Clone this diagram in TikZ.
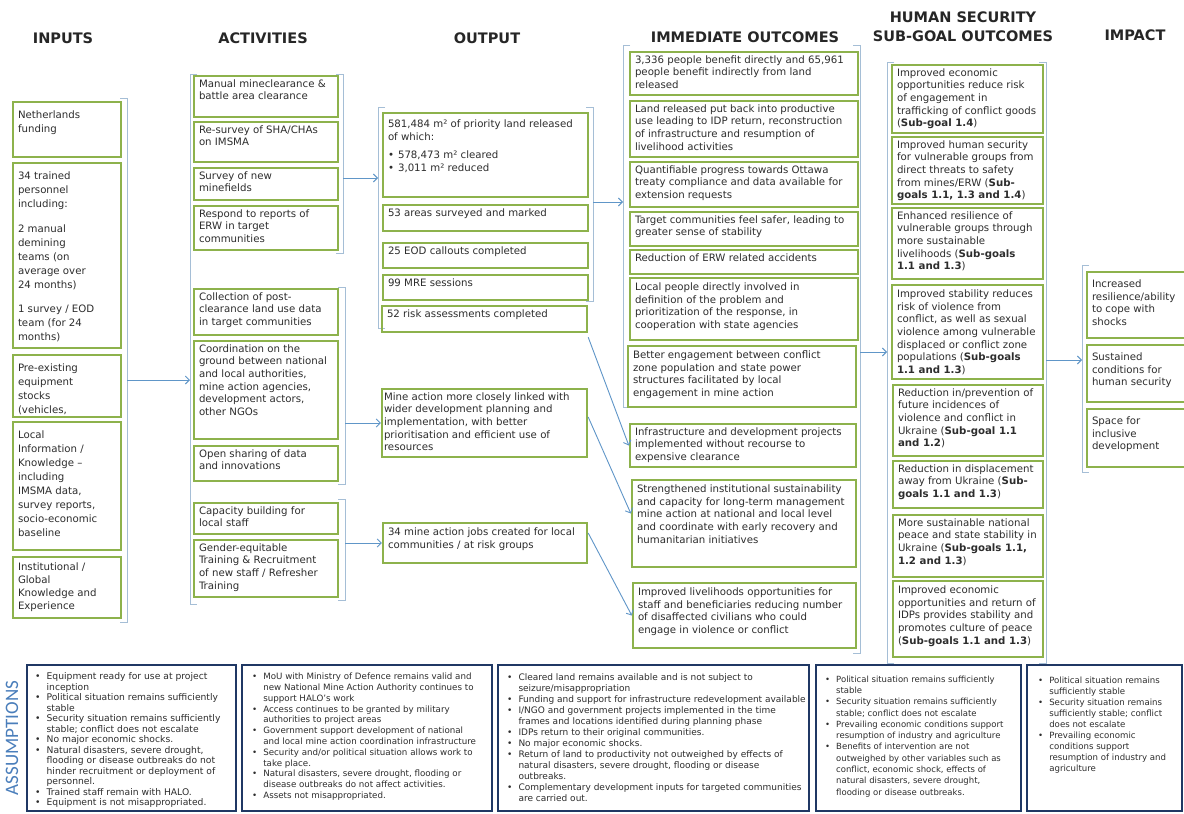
\documentclass[tikz,border=0pt]{standalone}
\usepackage{fontspec}
\setmainfont{DejaVu Sans}
\newfontfamily\asfont{Carlito}
\usetikzlibrary{arrows.meta,fit,calc}
\definecolor{grn}{RGB}{141,178,76}
\definecolor{navy}{RGB}{32,56,100}
\definecolor{brc}{RGB}{165,190,214}
\definecolor{arc}{RGB}{96,150,200}
\definecolor{txt}{RGB}{45,45,45}
\definecolor{asm}{RGB}{74,126,187}
\tikzset{
 gbox/.style={draw=grn, line width=2.4pt, inner sep=0pt},
 gtext/.style={align=left, inner xsep=6pt, inner ysep=4.5pt, text=txt, font=\fontsize{10.2}{12.6}\selectfont, anchor=north west},
 intext/.style={inner ysep=10pt, font=\fontsize{10.2}{13.9}\selectfont},
 abox/.style={draw=navy, line width=2.5pt, inner sep=0pt},
 atext/.style={inner sep=0pt, text=txt, anchor=north west},
 hdr/.style={font=\fontsize{14.5}{19}\selectfont\bfseries, text=black!85, align=center},
 brk/.style={draw=brc, line width=0.8pt},
 arr/.style={draw=arc, line width=0.9pt, -{Straight Barb[length=4pt,width=8pt]}},
}
\newcommand{\gbx}[7][]{%
 \node[gbox, fit={(#3,#4) (#5,#6)}] (#2) {};
 \node[gtext,#1] (#2t) at (#2.north west) {#7};}
\newcommand{\lbrk}[3]{\draw[brk] (#1+7,#2) -- (#1,#2) -- (#1,#3) -- (#1+7,#3);}
\newcommand{\rbrk}[3]{\draw[brk] (#1-7,#2) -- (#1,#2) -- (#1,#3) -- (#1-7,#3);}
\begin{document}
\begin{tikzpicture}[x=1pt,y=-1pt]
\useasboundingbox[fill=white] (0,0) rectangle (1184,814);

% headers
\node[hdr] (hin) at (63,38) {INPUTS};
\node[hdr] (hact) at (263,38) {ACTIVITIES};
\node[hdr] (hout) at (487,38) {OUTPUT};
\node[hdr] (himm) at (745,37) {IMMEDIATE OUTCOMES};
\node[hdr] (hhs) at (963,27) {HUMAN SECURITY\\SUB-GOAL OUTCOMES};
\node[hdr] (himp) at (1135,35) {IMPACT};

% inputs
\gbx[intext]{in1}{13}{102}{121}{157}{Netherlands\\funding}
\gbx[intext]{in2}{13}{163}{121}{348}{34 trained\\personnel\\including:\\[11pt]2 manual\\demining\\teams (on\\average over\\24 months)\\[11pt]1 survey / EOD\\team (for 24\\months)}
\gbx[intext]{in3}{13}{355}{121}{417}{Pre-existing\\equipment\\stocks\\(vehicles,}
\gbx[intext]{in4}{13}{422}{121}{550}{Local\\Information /\\Knowledge –\\including\\IMSMA data,\\survey reports,\\socio-economic\\baseline}
\gbx[intext, inner ysep=7pt, font=\fontsize{10.2}{13}\selectfont]{in5}{13}{557}{121}{618}{Institutional /\\Global\\Knowledge and\\Experience}
\rbrk{127}{98}{622}

% activities
\lbrk{190}{74}{604}
\gbx{act1}{194}{76}{338}{117}{Manual mineclearance \&\\battle area clearance}
\gbx{act2}{194}{122}{338}{162}{Re-survey of SHA/CHAs\\on IMSMA}
\gbx{act3}{194}{168}{338}{200}{Survey of new\\minefields}
\gbx{act4}{194}{206}{338}{250}{Respond to reports of\\ERW in target\\communities}
\rbrk{343}{74}{253}
\gbx{act5}{194}{289}{338}{335}{Collection of post-\\clearance land use data\\in target communities}
\gbx{act6}{194}{341}{338}{439}{Coordination on the\\ground between national\\and local authorities,\\mine action agencies,\\development actors,\\other NGOs}
\gbx{act7}{194}{446}{338}{481}{Open sharing of data\\and innovations}
\rbrk{345}{287}{484}
\gbx{act8}{194}{503}{338}{534}{Capacity building for\\local staff}
\gbx{act9}{194}{540}{338}{597}{Gender-equitable\\Training \& Recruitment\\of new staff / Refresher\\Training}
\rbrk{345}{499}{600}

% output
\lbrk{378}{107}{328}
\rbrk{593}{107}{301}
\gbx[inner ysep=8pt]{out1}{383}{113}{588}{197}{581,484 m² of priority land released\\of which:\\[6pt]•\hspace{4pt}578,473 m² cleared\\•\hspace{4pt}3,011 m² reduced}
\gbx{out2}{383}{205}{588}{231}{53 areas surveyed and marked}
\gbx{out3}{383}{243}{588}{268}{25 EOD callouts completed}
\gbx{out4}{383}{275}{588}{300}{99 MRE sessions}
\gbx{out5}{382}{306}{587}{332}{52 risk assessments completed}
\gbx[inner xsep=3pt]{out6}{382}{389}{587}{457}{Mine action more closely linked with\\wider development planning and\\implementation, with better\\prioritisation and efficient use of\\resources}
\gbx[inner ysep=6pt]{out7}{383}{523}{587}{563}{34 mine action jobs created for local\\communities / at risk groups}

% immediate outcomes
\lbrk{623}{45}{407}
\rbrk{860}{45}{653}
\gbx{imm1}{630}{52}{858}{95}{3,336 people benefit directly and 65,961\\people benefit indirectly from land\\released}
\gbx{imm2}{630}{101}{858}{157}{Land released put back into productive\\use leading to IDP return, reconstruction\\of infrastructure and resumption of\\livelihood activities}
\gbx{imm3}{630}{162}{858}{207}{Quantifiable progress towards Ottawa\\treaty compliance and data available for\\extension requests}
\gbx{imm4}{630}{212}{858}{246}{Target communities feel safer, leading to\\greater sense of stability}
\gbx{imm5}{630}{250}{858}{274}{Reduction of ERW related accidents}
\gbx[inner ysep=6pt]{imm6}{630}{278}{858}{340}{Local people directly involved in\\definition of the problem and\\prioritization of the response, in\\cooperation with state agencies}
\gbx[inner ysep=6pt]{imm7}{628}{346}{856}{407}{Better engagement between conflict\\zone population and state power\\structures facilitated by local\\engagement in mine action}
\gbx{imm8}{630}{424}{856}{467}{Infrastructure and development projects\\implemented without recourse to\\expensive clearance}
\gbx[inner ysep=6pt]{imm9}{632}{480}{856}{567}{Strengthened institutional sustainability\\and capacity for long-term management\\mine action at national and local level\\and coordinate with early recovery and\\humanitarian initiatives}
\gbx[inner ysep=6pt]{imm10}{633}{583}{856}{648}{Improved livelihoods opportunities for\\staff and beneficiaries reducing number\\of disaffected civilians who could\\engage in violence or conflict}

% human security
\lbrk{887}{62}{663}
\rbrk{1046}{62}{663}
\gbx{hs1}{892}{65}{1043}{133}{Improved economic\\opportunities reduce risk\\of engagement in\\trafficking of conflict goods\\(\textbf{Sub-goal 1.4})}
\gbx{hs2}{892}{137}{1043}{204}{Improved human security\\for vulnerable groups from\\direct threats to safety\\from mines/ERW (\textbf{Sub-}\\\textbf{goals 1.1, 1.3 and 1.4})}
\gbx{hs3}{892}{208}{1043}{279}{Enhanced resilience of\\vulnerable groups through\\more sustainable\\livelihoods (\textbf{Sub-goals}\\\textbf{1.1 and 1.3})}
\gbx[inner ysep=6pt]{hs4}{892}{285}{1043}{379}{Improved stability reduces\\risk of violence from\\conflict, as well as sexual\\violence among vulnerable\\displaced or conflict zone\\populations (\textbf{Sub-goals}\\\textbf{1.1 and 1.3})}
\gbx{hs5}{893}{385}{1043}{456}{Reduction in/prevention of\\future incidences of\\violence and conflict in\\Ukraine (\textbf{Sub-goal 1.1}\\\textbf{and 1.2})}
\gbx{hs6}{893}{461}{1043}{508}{Reduction in displacement\\away from Ukraine (\textbf{Sub-}\\\textbf{goals 1.1 and 1.3})}
\gbx{hs7}{893}{515}{1043}{577}{More sustainable national\\peace and state stability in\\Ukraine (\textbf{Sub-goals 1.1,}\\\textbf{1.2 and 1.3})}
\gbx[inner ysep=6pt]{hs8}{893}{581}{1043}{657}{Improved economic\\opportunities and return of\\IDPs provides stability and\\promotes culture of peace\\(\textbf{Sub-goals 1.1 and 1.3})}

% impact
\lbrk{1082}{265}{472}
\gbx[inner ysep=9pt]{imp1}{1087}{272}{1192}{338}{Increased\\resilience/ability\\to cope with\\shocks}
\gbx[inner ysep=9pt]{imp2}{1087}{345}{1192}{402}{Sustained\\conditions for\\human security}
\gbx[inner ysep=9pt]{imp3}{1087}{409}{1192}{467}{Space for\\inclusive\\development}

% connectors
\coordinate (inR) at (127,380); \coordinate (actL) at (190,380);
\draw[arr] (inR) -- (actL);
\coordinate (a1R) at (343,178); \coordinate (outL) at (378,178);
\draw[arr] (a1R) -- (outL);
\coordinate (a2R) at (345,423);
\draw[arr] (a2R) -- (out6.west);
\coordinate (a3R) at (345,543);
\draw[arr] (a3R) -- (out7.west);
\coordinate (oR) at (593,202); \coordinate (iL) at (623,202);
\draw[arr] (oR) -- (iL);
\draw[arr] ($(out5.south east)+(0,4)$) -- (imm8.west);
\draw[arr] ($(out6.east)+(0,-6)$) -- ($(imm9.west)+(0,-10)$);
\draw[arr] ($(out7.east)+(0,-10)$) -- (imm10.west);
\coordinate (iR) at (860,352); \coordinate (hL) at (887,352);
\draw[arr] (iR) -- (hL);
\coordinate (hR) at (1046,360); \coordinate (pL) at (1082,360);
\draw[arr] (hR) -- (pL);

% assumptions
\node[rotate=90, text=asm, font=\asfont\fontsize{19}{19}\selectfont] (asmlabel) at (12,738) {ASSUMPTIONS};
\node[abox, fit={(27,665) (236,811)}] (as1) {};
\node[atext, font=\fontsize{9.2}{10.5}\selectfont] (as1t) at (35,672) {\begin{tabular}{@{}l@{\hspace{6pt}}l@{}}
• & Equipment ready for use at project\\
 & inception\\
• & Political situation remains sufficiently\\
 & stable\\
• & Security situation remains sufficiently\\
 & stable; conflict does not escalate\\
• & No major economic shocks.\\
• & Natural disasters, severe drought,\\
 & flooding or disease outbreaks do not\\
 & hinder recruitment or deployment of\\
 & personnel.\\
• & Trained staff remain with HALO.\\
• & Equipment is not misappropriated.
\end{tabular}};
\node[abox, fit={(242,665) (492,811)}] (as2) {};
\node[atext, font=\fontsize{8.7}{10.8}\selectfont] (as2t) at (252,672) {\begin{tabular}{@{}l@{\hspace{6pt}}l@{}}
• & MoU with Ministry of Defence remains valid and\\
 & new National Mine Action Authority continues to\\
 & support HALO's work\\
• & Access continues to be granted by military\\
 & authorities to project areas\\
• & Government support development of national\\
 & and local mine action coordination infrastructure\\
• & Security and/or political situation allows work to\\
 & take place.\\
• & Natural disasters, severe drought, flooding or\\
 & disease outbreaks do not affect activities.\\
• & Assets not misappropriated.
\end{tabular}};
\node[abox, fit={(498,665) (809,811)}] (as3) {};
\node[atext, font=\fontsize{9}{11}\selectfont] (as3t) at (507,673) {\begin{tabular}{@{}l@{\hspace{6pt}}l@{}}
• & Cleared land remains available and is not subject to\\
 & seizure/misappropriation\\
• & Funding and support for infrastructure redevelopment available\\
• & I/NGO and government projects implemented in the time\\
 & frames and locations identified during planning phase\\
• & IDPs return to their original communities.\\
• & No major economic shocks.\\
• & Return of land to productivity not outweighed by effects of\\
 & natural disasters, severe drought, flooding or disease\\
 & outbreaks.\\
• & Complementary development inputs for targeted communities\\
 & are carried out.
\end{tabular}};
\node[abox, fit={(816,665) (1021,811)}] (as4) {};
\node[atext, font=\fontsize{8.5}{11.3}\selectfont] (as4t) at (825,674) {\begin{tabular}{@{}l@{\hspace{6pt}}l@{}}
• & Political situation remains sufficiently\\
 & stable\\
• & Security situation remains sufficiently\\
 & stable; conflict does not escalate\\
• & Prevailing economic conditions support\\
 & resumption of industry and agriculture\\
• & Benefits of intervention are not\\
 & outweighed by other variables such as\\
 & conflict, economic shock, effects of\\
 & natural disasters, severe drought,\\
 & flooding or disease outbreaks.
\end{tabular}};
\node[abox, fit={(1027,665) (1182,811)}] (as5) {};
\node[atext, font=\fontsize{8.6}{11}\selectfont] (as5t) at (1038,676) {\begin{tabular}{@{}l@{\hspace{6pt}}l@{}}
• & Political situation remains\\
 & sufficiently stable\\
• & Security situation remains\\
 & sufficiently stable; conflict\\
 & does not escalate\\
• & Prevailing economic\\
 & conditions support\\
 & resumption of industry and\\
 & agriculture
\end{tabular}};
\end{tikzpicture}
\end{document}
